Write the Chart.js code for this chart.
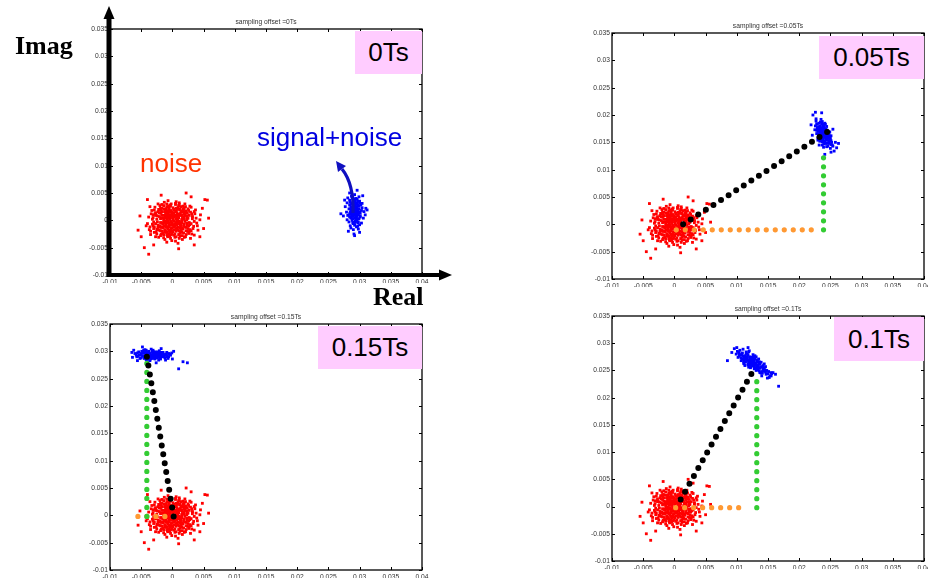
<!DOCTYPE html>
<html>
<head>
<meta charset="utf-8">
<script src="https://cdn.jsdelivr.net/npm/chart.js@4.4.1/dist/chart.umd.min.js"></script>
<style>
body { margin: 0; width: 928px; height: 580px; background: #fff; position: relative; overflow: hidden; font-family: "Liberation Sans", Arial, sans-serif; }
canvas { position: absolute; left: 0; top: 0; }
.lbl { position: absolute; white-space: nowrap; line-height: 1; }
.serif { font-family: "Liberation Serif", "Times New Roman", serif; font-weight: bold; font-size: 26px; color: #000; }
.big { font-size: 26px; }
.title { position: absolute; white-space: nowrap; font-size: 6.7px; color: #333; transform: translate(-50%, -50%); }
.tag { position: absolute; background: #ffccff; display: flex; align-items: center; justify-content: center; font-size: 26px; color: #000; }
svg { position: absolute; left: 0; top: 0; }
</style>
</head>
<body>
<canvas id="p0" width="928" height="580"></canvas>
<canvas id="p005" width="928" height="580"></canvas>
<canvas id="p015" width="928" height="580"></canvas>
<canvas id="p01" width="928" height="580"></canvas>

<div class="title" style="left:266px;top:21px">sampling offset =0Ts</div>
<div class="title" style="left:768px;top:25px">sampling offset =0.05Ts</div>
<div class="title" style="left:266px;top:316px">sampling offset =0.15Ts</div>
<div class="title" style="left:768px;top:308px">sampling offset =0.1Ts</div>

<div class="tag" style="left:355px;top:31px;width:67px;height:43px">0Ts</div>
<div class="tag" style="left:819px;top:36px;width:105px;height:43px">0.05Ts</div>
<div class="tag" style="left:318px;top:326px;width:104px;height:43px">0.15Ts</div>
<div class="tag" style="left:834px;top:317px;width:90px;height:44px">0.1Ts</div>

<div class="lbl serif" style="left:15px;top:33px">Imag</div>
<div class="lbl serif" style="left:373px;top:284px">Real</div>
<div class="lbl big" style="left:140px;top:150px;color:#ff3300">noise</div>
<div class="lbl big" style="left:257px;top:124px;color:#0000e0">signal+noise</div>

<svg width="928" height="580">
  <path d="M353,213 Q354,184 342,169" stroke="#1010c0" stroke-width="3.2" fill="none"/>
  <polygon points="336,161 346,166 338,172" fill="#1010c0"/>
</svg>

<script>
// Sumbu
const xTicks = [-0.01, -0.005, 0, 0.005, 0.01, 0.015, 0.02, 0.025, 0.03, 0.035, 0.04];
const yTicks = [-0.01, -0.005, 0, 0.005, 0.01, 0.015, 0.02, 0.025, 0.03, 0.035];

// Awan derau (merah), sama di keempat panel
const noiseCloud = [
  [0.0003,-0.0008],[-0.0012,0.0005],[0.0021,0.0014],[-0.0004,-0.0019],[0.0009,0.0002],[-0.0027,-0.0006],[0.0015,-0.0022],[0,0.0011],[-0.0008,0.0024],[0.0032,0.0007],
  [-0.0018,-0.0013],[0.0006,0.0017],[-0.0002,-0.0003],[0.0024,-0.0009],[-0.0031,0.001],[0.0011,0.0029],[-0.0014,-0.0027],[0.0017,0.0003],[-0.0006,-0.0011],[0.0002,0.002],
  [0.0028,-0.0017],[-0.0021,0.0019],[0.0013,-0.0004],[-0.001,-0.0001],[0.0004,-0.0031],[-0.0036,-0.0012],[0.0019,0.0022],[-0.0003,0.0008],[0.0008,-0.0014],[-0.0025,0.0002],
  [0.0035,-0.0002],[-0.0009,0.0013],[0.0016,-0.0028],[-0.0016,-0.002],[0.0001,0.0004],[-0.002,0.0027],[0.0026,0.0018],[-0.0001,-0.0024],[0.0012,0.0009],[-0.0029,-0.0022],
  [0.0007,-0.0006],[-0.0013,0.0033],[0.0022,-0.0013],[-0.0005,0.0015],[0.003,0.0024],[-0.0024,-0.0003],[0.0005,-0.0038],[-0.0011,-0.0008],[0.0018,0.0012],[-0.0038,0.0006],
  [0.001,0.0027],[-0.0007,-0.0016],[0.004,-0.001],[-0.0015,0.0009],[0.0003,-0.0001],[-0.0022,-0.0031],[0.0014,-0.0018],[-0.0002,0.0018],[0.0025,0.0004],[-0.0033,0.0018],
  [-0.0004,0.0002],[0.0019,-0.0007],[-0.0017,-0.0005],[0.0008,0.0021],[-0.0027,0.0014],[0.0031,-0.0025],[0,-0.0009],[-0.0009,0.003],[0.0016,0.0016],[-0.0012,-0.0035],
  [0.0006,-0.002],[-0.003,-0.0015],[0.0023,0.0008],[-0.0006,0.0006],[0.0011,-0.0033],[-0.0019,0.0022],[0.0036,0.0012],[-0.0001,-0.0014],[-0.0023,-0.0009],[0.0014,0.0025],
  [-0.0014,0.0001],[0.0027,-0.0004],[0.0002,0.0013],[-0.0035,-0.0026],[0.0009,-0.0012],[-0.0008,-0.0029],[0.002,0.003],[-0.0026,0.001],[0.0004,0.0007],[0.0044,0.0001],
  [-0.001,-0.0004],[0.0017,-0.0016],[-0.0003,0.0026],[0.0012,-0.0024],[-0.0021,-0.0018],[0.0029,0.0015],[-0.0007,-0.003],[0.0007,0.0014],[-0.0016,0.0016],[0.0021,-0.003],
  [-0.0001,-0.0006],[0.0033,-0.0015],[-0.0019,0.0003],[0.0005,0.0031],[-0.0012,-0.0022],[0.0015,-0.0001],[-0.0028,0.0024],[0.0024,-0.002],[-0.0005,-0.0012],[0.001,0.0005],
  [-0.004,-0.0006],[0.0018,0.002],[-0.0009,-0.004],[0.0026,-0.001],[-0.0002,0.0009],[-0.0015,-0.0014],[0.0037,0.0019],[0.0003,-0.0017],[-0.0023,0.003],[0.0013,-0.0008],
  [-0.0006,0.0019],[0.0022,-0.0026],[-0.0032,0.0002],[0.0009,0.001],[-0.0011,0.0012],[0.003,-0.0006],[-0.0018,-0.0025],[0.0001,0.0023],[0.0016,-0.0035],[-0.0025,-0.0016],
  [0.0008,-0.0003],[-0.0004,-0.0028],[0.0019,0.0006],[-0.002,-0.001],[0.0041,-0.0018],[-0.0013,0.0021],[0.0006,0.0034],[-0.003,-0.0003],[0.0025,-0.0015],[-0.0008,0.0003],
  [0.0014,0.0017],[-0.0024,0.0008],[-0.0001,-0.0037],[0.0032,0.0003],[-0.0017,0.0029],[0.001,-0.0026],[-0.0035,-0.002],[0.002,-0.0002],[-0.0005,0.001],[0.0028,0.0026],
  [-0.0012,-0.0017],[0.0004,-0.0011],[-0.0027,-0.003],[0.0017,0.0021],[-0.0003,-0.0002],[0.0035,-0.0027],[-0.0021,0.0014],[0.0011,-0.0019],[-0.0009,0.0025],[0.0045,0.001],
  [0.0002,-0.0027],[-0.0015,-0.0007],[0.0024,0.0013],[-0.0007,0.0036],[0.0013,-0.0011],[-0.0031,-0.001],[0.0007,0],[-0.0018,0.0005],[0.0029,-0.0033],[-0.0004,-0.0021],
  [-0.0022,0.002],[0.0018,-0.0023],[-0.001,-0.0012],[0.0038,0.0004],[-0.0002,0.003],[0.0009,-0.0042],[-0.0028,0.0012],[0.0015,0.0009],[-0.0014,-0.0032],[0.0023,0.0001],
  [-0.0006,-0.0025],[-0.0036,0.0025],[0.0012,0.0019],[-0.0019,-0.0019],[0.0027,-0.0021],[0,0.0015],[-0.0009,-0.0005],[0.0021,0.0025],[-0.0042,-0.001],[0.0006,-0.003],
  [-0.0045,-0.005],[-0.0038,-0.0062],[0.0052,0.0038],[0.0056,0.0037],[0.005,-0.0015],[-0.0052,0.0008],[0.0048,0.0022],[-0.0018,0.0046],[0.003,0.0043],[-0.004,0.0038],
  [0.001,-0.0052],[-0.0055,-0.0018],[0.0058,0.0004],[0.0035,-0.0045],[-0.003,-0.0045],[0.0022,0.005],[-0.005,-0.003],[0.0044,-0.003],
  [0.0001,0.0001],[-0.0003,0.0005],[0.0005,-0.0004],[-0.0007,-0.0002],[0.0008,0.0006],[-0.0002,-0.0008],[0.0004,0.0009],[-0.0009,0.0003],[0.0011,-0.0002],[-0.0005,-0.0005],
  [0,-0.0004],[0.0006,0.0003],[-0.0004,0.001],[0.0003,-0.001],[-0.001,-0.0008],[0.001,0.0011],[-0.0013,-0.0002],[0.0013,-0.0006],[-0.0001,0.0014],[0.0007,-0.0009],
  [-0.0008,0.0008],[0.0002,0.0006],[0.0009,-0.0018],[-0.0012,0.0016],[0.0015,0.0002],[-0.0006,-0.0018],[0.0018,-0.0011],[-0.0016,-0.0012],[0.0005,0.0016],[-0.0002,-0.0015],
  [0.0012,-0.0014],[-0.0015,0.0004],[0.002,0.0009],[-0.0005,0.0022],[0.0001,-0.0021],[-0.0019,-0.0004],[0.0023,-0.0005],[-0.0011,0.0019],[0.0008,0.002],[-0.0023,-0.0013],
  [0.0016,0.0007],[-0.0017,0.001],[0.0004,-0.0025],[-0.0026,-0.0021],[0.0027,0.0009],[-0.0008,-0.0022],[0.0011,0.0032],[-0.0032,-0.0007],[0.0034,-0.0011],[-0.0014,0.0027],
  [0.0019,-0.0031],[-0.0021,0.0007],[0.0008,0.0012],[-0.0003,-0.0033],[0.0025,0.0021],[-0.0029,0.0019],[0.0014,-0.0009],[-0.001,0.0021],[0.0031,0.0012],[-0.0019,-0.0028],
  [0.0006,-0.0015],[-0.0034,0.0012],[0.0022,-0.0019],[-0.0004,0.0028],[0.0039,-0.0005],[-0.0011,-0.0019],[0.0017,0.0026],[-0.0025,-0.0025],[0.0003,0.0019],[-0.0037,-0.0017],
  [0.0028,-0.0008],[-0.0007,0.0012],[0.0012,-0.0029],[-0.0023,0.0016],[0.0035,0.0016],[-0.0002,-0.0026],[0.0009,0.0024],[-0.0016,-0.0005],[0.0021,-0.0012],[-0.0031,0.0005],
  [0.0001,0.0008],[-0.0013,-0.0011],[0.0024,0.0004],[-0.0009,0.0017],[0.0015,-0.0005],[-0.0021,-0.0012],[0.0006,0.0022],[-0.0005,-0.0009],[0.0018,0.0016],[-0.0027,0.0009],
  [0.0013,0.0013],[-0.0017,0.0022],[0.003,-0.0019],[-0.0011,0.0006],[0.0004,-0.0007],[-0.0024,-0.0017],[0.0019,0.0002],[-0.0006,0.0026],[0.0026,-0.0024],[-0.0015,-0.0024],
  [0.0009,0.0005],[-0.0003,0.0016],[0.0014,-0.0021],[-0.0019,0.0013],[0.0032,0.0006],[-0.0008,-0.0013],[0.0005,0.0029],[-0.0029,-0.0012],[0.0022,0.0017],[-0.0012,0.0009],
  [0.0002,-0.0012],[-0.0006,0.0004],[0.001,-0.0006],[-0.0014,-0.0004],[0.0007,0.0009],[-0.0001,-0.0019],[0.0016,-0.0014],[-0.0018,0.0018],[0.0012,0.0021],[-0.0009,-0.0026]
];

// Awan sinyal+derau (biru) per offset sampling
const signal0Ts = [
  [0.0292,0.0015],[0.0295,0.0024],[0.0286,0.0004],[0.03,0.0031],[0.029,-0.0006],[0.0297,0.0012],[0.0283,0.0021],[0.0293,0.0037],[0.0288,0],[0.0301,0.0008],
  [0.0291,0.0027],[0.0296,-0.0002],[0.0285,0.0033],[0.0294,0.0013],[0.0281,0.0009],[0.0299,0.0026],[0.0289,0.0042],[0.03,-0.0008],[0.0292,0.0005],[0.0284,0.0028],
  [0.0303,0.0018],[0.029,0.002],[0.0295,-0.0012],[0.0287,0.0017],[0.0297,0.0035],[0.028,0.0001],[0.0293,-0.0001],[0.0299,0.0003],[0.0287,0.0044],[0.0294,0.003],
  [0.0285,-0.001],[0.0304,0.0023],[0.0291,0.001],[0.0296,0.0039],[0.0283,-0.0003],[0.0298,-0.0016],[0.0289,0.0031],[0.0302,0.0028],[0.0292,0.0047],[0.0279,0.0015],
  [0.0295,0.0016],[0.029,-0.0017],[0.0306,0.0004],[0.0284,0.0037],[0.0297,0.0019],[0.0288,0.0007],[0.03,0.0035],[0.0277,0.0025],[0.0294,0.0002],[0.0298,-0.0003],
  [0.0291,0.0033],[0.0303,-0.0005],[0.0281,0.0041],[0.0296,0.0024],[0.0286,-0.0014],[0.0307,0.0016],[0.0293,0.0022],[0.0289,0.0013],[0.0299,0.0043],[0.0285,0.0006],
  [0.0292,-0.0009],[0.0301,0.0013],[0.028,0.0032],[0.0295,0.0009],[0.029,0.0027],[0.0297,-0.0011],[0.0284,0.0012],[0.0304,0.0031],[0.0287,0.0019],[0.0294,0.004],
  [0.0274,0.0008],[0.0309,0.001],[0.0282,-0.002],[0.0296,0.0055],[0.0291,-0.0025],[0.031,0.0022],[0.0305,0.0045],[0.0276,0.0037],[0.03,-0.0022],[0.0284,0.005],
  [0.027,0.0012],[0.0312,0.0019],[0.0292,-0.0028],
  [0.0293,0.0018],[0.029,0.0009],[0.0295,0.0007],[0.0289,0.0024],[0.0294,-0.0001],[0.0291,0.0036],[0.0296,0.0003],[0.0287,0.0023],[0.0298,0.0016],[0.0292,0.0028],
  [0.0288,0.0014],[0.0293,0.0011],[0.029,0.003],[0.0296,0.002],[0.0289,-0.0004],
  [0.0291,0.0019],[0.0294,0.0025],[0.0288,0.001],[0.0297,0.0028],[0.0289,0.0003],[0.0295,0.0017],[0.0286,0.0025],[0.0293,0.0033],[0.029,0.0014],[0.0298,0.001],
  [0.0292,0.0021],[0.0296,0.0008],[0.0287,0.003],[0.0294,0.0005],[0.0285,0.0015],[0.0299,0.0021],[0.0291,0.0039],[0.0297,-0.0005],[0.0289,0.0008],[0.0286,0.0019],
  [0.03,0.0015],[0.0293,0.0027],[0.0292,-0.0004],[0.0288,0.0022],[0.0296,0.0031],[0.0284,0.0007],[0.0295,0.0001],[0.0301,0.0006],[0.029,0.0035],[0.0294,0.0011]
];
const signal005Ts = [
  [0.0238,0.0166],[0.0243,0.0158],[0.0232,0.0175],[0.0248,0.0151],[0.0235,0.0161],[0.024,0.0178],[0.0229,0.0183],[0.0245,0.0164],[0.0237,0.0151],[0.0251,0.0146],
  [0.0234,0.017],[0.0242,0.0183],[0.0228,0.0172],[0.0244,0.0155],[0.0238,0.0173],[0.0236,0.0155],[0.0249,0.0159],[0.0231,0.0165],[0.0239,0.0181],[0.0246,0.0143],
  [0.0226,0.018],[0.0243,0.0168],[0.0234,0.0187],[0.0251,0.0153],[0.0237,0.0162],[0.0245,0.0172],[0.0232,0.0157],[0.024,0.0147],[0.0227,0.0189],[0.0248,0.0164],
  [0.0242,0.0152],[0.0231,0.0178],[0.0253,0.0145],[0.0235,0.0192],[0.0244,0.0179],[0.0233,0.0152],[0.0239,0.0141],[0.0247,0.0157],[0.0228,0.0166],[0.0238,0.0183],
  [0.025,0.0139],[0.0234,0.0172],[0.0243,0.0161],[0.0225,0.0173],[0.0245,0.0148],[0.0237,0.0188],[0.024,0.0159],[0.023,0.0158],[0.0249,0.0169],[0.0232,0.0185],
  [0.0254,0.0143],[0.0236,0.0164],[0.0241,0.0175],[0.0227,0.0193],[0.0244,0.0142],[0.0238,0.0156],[0.0247,0.0152],[0.0233,0.018],[0.0251,0.0162],[0.023,0.0154],
  [0.0222,0.02],[0.0226,0.0205],[0.0256,0.0134],[0.0258,0.015],[0.0219,0.0182],[0.0241,0.0128],[0.0251,0.0132],[0.0236,0.0204],[0.026,0.014],[0.0232,0.0145],
  [0.0254,0.0174],[0.0221,0.0163],[0.0263,0.0148],
  [0.0239,0.0168],[0.0236,0.0171],[0.0242,0.0163],[0.0237,0.016],[0.024,0.0173],[0.0235,0.0167],[0.0243,0.0156],[0.0238,0.0162],[0.0244,0.017],[0.0233,0.0175],
  [0.0241,0.0166],[0.0236,0.0177],[0.0246,0.016],[0.0239,0.015],[0.0234,0.0163],
  [0.0237,0.0169],[0.024,0.0164],[0.0235,0.0172],[0.0243,0.0159],[0.0239,0.0176],[0.0233,0.0168],[0.0245,0.0156],[0.0236,0.0159],[0.0241,0.0171],[0.0231,0.0174],
  [0.0247,0.0163],[0.0238,0.0179],[0.0234,0.0156],[0.0242,0.0148],[0.0229,0.0177],[0.0244,0.0166],[0.0236,0.0183],[0.024,0.0153],[0.0246,0.0168],[0.0232,0.0162],
  [0.025,0.0157],[0.0237,0.0145],[0.0241,0.0185],[0.0228,0.0184],[0.0248,0.0148],[0.0235,0.0176],[0.0243,0.0174],[0.0239,0.016],[0.023,0.017],[0.0252,0.015]
];
const signal01Ts = [
  [0.0123,0.0265],[0.013,0.0261],[0.0115,0.0271],[0.0137,0.0254],[0.0119,0.0266],[0.0127,0.0268],[0.011,0.0276],[0.0133,0.0258],[0.0121,0.026],[0.0142,0.0252],
  [0.0117,0.0275],[0.0129,0.0264],[0.0106,0.0279],[0.0135,0.0262],[0.0124,0.027],[0.0112,0.027],[0.014,0.0248],[0.0126,0.0259],[0.0118,0.0278],[0.0146,0.0247],
  [0.0103,0.0283],[0.0131,0.0255],[0.0114,0.0266],[0.0138,0.0257],[0.0121,0.0272],[0.0128,0.0256],[0.0109,0.0282],[0.0134,0.0251],[0.0116,0.0269],[0.0144,0.0254],
  [0.012,0.0263],[0.0107,0.0273],[0.0139,0.0245],[0.0125,0.0274],[0.0113,0.0277],[0.0132,0.0266],[0.0101,0.0285],[0.0147,0.0243],[0.0122,0.0257],[0.0136,0.0249],
  [0.0111,0.0267],[0.0129,0.0271],[0.0105,0.0287],[0.0141,0.0256],[0.0118,0.0262],[0.0126,0.0265],[0.0099,0.028],[0.0143,0.0249],[0.0115,0.028],[0.0134,0.026],
  [0.015,0.0244],[0.0108,0.0278],[0.0124,0.0261],[0.0131,0.025],[0.0104,0.0276],[0.0137,0.0262],[0.0119,0.0284],[0.0145,0.0251],[0.0112,0.0262],[0.0128,0.0275],
  [0.0085,0.0268],[0.0167,0.0221],[0.0152,0.0237],[0.0096,0.029],[0.0158,0.0246],[0.01,0.0292],[0.0155,0.024],[0.0092,0.0283],[0.0149,0.0236],[0.011,0.0289],
  [0.0162,0.0243],[0.0118,0.0292],[0.014,0.024],[0.0155,0.0246],[0.0153,0.024],
  [0.0122,0.0266],[0.0126,0.0263],[0.0119,0.0268],[0.0129,0.026],[0.0116,0.0272],[0.0124,0.0262],[0.0121,0.0269],[0.0132,0.0258],[0.0114,0.0274],[0.0127,0.0266],
  [0.012,0.0264],[0.0134,0.0256],[0.0117,0.027],[0.0125,0.0267],[0.013,0.0263],
  [0.0128,0.027],[0.0118,0.026],[0.0136,0.0266],[0.0111,0.0263],[0.0131,0.0275],[0.0122,0.0255],[0.0142,0.0259],[0.0107,0.0268],[0.0126,0.0279],[0.0134,0.0252],
  [0.0115,0.0284],[0.0146,0.0257],[0.0121,0.0275],[0.0109,0.0271],[0.0139,0.0265],[0.0128,0.0253],[0.0117,0.028],[0.0148,0.025],[0.0124,0.0258],[0.0133,0.0269],
  [0.0113,0.0259],[0.0141,0.0245],[0.0104,0.0281],[0.0129,0.0277],[0.0137,0.0246],[0.012,0.0286],[0.0151,0.0248],[0.0112,0.0274],[0.0125,0.0271],[0.0144,0.0262],
  [0.0119,0.0256],[0.0135,0.0271],[0.0102,0.0274],[0.0156,0.0244],[0.0127,0.0262]
];
const signal015Ts = [
  [-0.0033,0.0293],[-0.0024,0.0297],[-0.0044,0.0289],[-0.0015,0.0295],[-0.0038,0.03],[-0.0028,0.0286],[-0.0051,0.0294],[-0.002,0.029],[-0.0036,0.0296],[-0.0008,0.0292],
  [-0.0042,0.0285],[-0.003,0.0299],[-0.0012,0.0288],[-0.0047,0.0297],[-0.0026,0.0292],[-0.0055,0.0291],[-0.0018,0.0298],[-0.0035,0.0288],[-0.0004,0.0295],[-0.004,0.0294],
  [-0.0022,0.0284],[-0.0049,0.03],[-0.0014,0.0293],[-0.0031,0.0302],[-0.0045,0.0287],[-0.0009,0.0298],[-0.0027,0.0296],[-0.0058,0.0293],[-0.0019,0.0286],[-0.0037,0.0291],
  [-0.0006,0.029],[-0.0043,0.0298],[-0.0025,0.0289],[-0.0052,0.0287],[-0.0016,0.0296],[-0.0034,0.0304],[-0.0011,0.0284],[-0.0048,0.0291],[-0.0029,0.0293],[-0.0021,0.0301],
  [-0.006,0.0296],[-0.0003,0.0293],[-0.0039,0.0286],[-0.0023,0.0295],[-0.0046,0.0302],[-0.0013,0.029],[-0.0032,0.0287],[-0.0054,0.0299],[-0.0017,0.0292],[-0.0041,0.0297],
  [-0.0001,0.0297],[-0.0028,0.0291],[-0.005,0.0288],[-0.001,0.0295],[-0.0036,0.0283],[-0.002,0.0294],[-0.0044,0.0303],[-0.0007,0.0287],[-0.0031,0.0297],[-0.0057,0.029],
  [-0.0064,0.0289],[0.0017,0.0281],[0.0024,0.0279],[0.001,0.0268],[-0.0065,0.0298],[0.0002,0.03],[-0.0048,0.0308],[-0.0026,0.0279],[-0.004,0.0281],[-0.0018,0.0305],
  [0,0.0286],[-0.0056,0.0283],[-0.0062,0.0302],
  [-0.003,0.0294],[-0.0035,0.0292],[-0.0025,0.0293],[-0.0038,0.0296],[-0.0028,0.0289],[-0.0033,0.0298],[-0.0022,0.0291],[-0.004,0.029],[-0.0027,0.0295],[-0.0032,0.029],
  [-0.0036,0.0295],[-0.0024,0.0288],[-0.0029,0.0298],[-0.0042,0.0293],[-0.0019,0.0294],
  [-0.0031,0.0292],[-0.0026,0.0295],[-0.0038,0.0291],[-0.0021,0.0297],[-0.0043,0.0295],[-0.0034,0.0289],[-0.0047,0.0292],[-0.0017,0.029],[-0.0029,0.0296],[-0.0012,0.0294],
  [-0.0039,0.0299],[-0.0024,0.0291],[-0.005,0.0296],[-0.0035,0.0286],[-0.0015,0.0298],[-0.0045,0.029],[-0.0027,0.0299],[-0.0009,0.029],[-0.0041,0.0288],[-0.0032,0.0301],
  [-0.0053,0.0293],[-0.002,0.0287],[-0.0037,0.0294],[-0.0006,0.0296],[-0.0046,0.0298],[-0.0023,0.0299],[-0.003,0.0288],[-0.0056,0.0297],[-0.0014,0.0291],[-0.0042,0.0302]
];

// Garis titik-titik: vektor (hitam), bagian imajiner (hijau), bagian real (oranye)
const vector005Ts = [[0.0014, 0], [0.0245, 0.0169]];
const imag005Ts = [[0.0239, -0.001], [0.0239, 0.0138]];
const real005Ts = [[0.0003, -0.001], [0.0232, -0.001]];

const vector01Ts = [[0.001, 0.0013], [0.013, 0.0257]];
const imag01Ts = [[0.0132, -0.0002], [0.0132, 0.0245]];
const real01Ts = [[0.0002, -0.0002], [0.0117, -0.0002]];

const vector015Ts = [[0.0002, -0.0002], [-0.0041, 0.0291]];
const imag015Ts = [[-0.0041, -0.0002], [-0.0041, 0.0278]];
const real015Ts = [[-0.0012, -0.0002], [-0.0056, -0.0002]];

const FONT = '"Liberation Sans", Arial, sans-serif';

function toXY(p) {
    return { x: p[0], y: p[1] };
}

// Titik kecil persegi ala MATLAB
function cloud(points, color, order) {
    return {
        data: points.map(toXY),
        pointStyle: 'rect',
        pointRadius: 2,
        pointHoverRadius: 2,
        pointBorderWidth: 0,
        pointBackgroundColor: color,
        backgroundColor: color,
        showLine: false,
        order: order
    };
}

// Garis putus-putus berupa bulatan
function dotted(points, color, width, order) {
    return {
        data: points.map(toXY),
        showLine: true,
        borderColor: color,
        borderWidth: width,
        borderDash: [0, 9],
        borderCapStyle: 'round',
        pointRadius: 0,
        pointHoverRadius: 0,
        tension: 0,
        order: order
    };
}

// Kotak sumbu dengan tick ke dalam, plus panah sumbu untuk panel pertama
const boxPlugin = {
    id: 'matlabBox',
    afterDraw(chart, args, opts) {
        const { ctx, chartArea: a, scales } = chart;
        ctx.save();
        ctx.strokeStyle = '#000';
        ctx.lineWidth = 1.3;
        ctx.strokeRect(a.left, a.top, a.width, a.height);
        ctx.beginPath();
        scales.x.ticks.forEach(t => {
            const px = Math.round(scales.x.getPixelForValue(t.value)) + 0.5;
            ctx.moveTo(px, a.bottom); ctx.lineTo(px, a.bottom - 3);
            ctx.moveTo(px, a.top); ctx.lineTo(px, a.top + 3);
        });
        scales.y.ticks.forEach(t => {
            const py = Math.round(scales.y.getPixelForValue(t.value)) + 0.5;
            ctx.moveTo(a.left, py); ctx.lineTo(a.left + 3, py);
            ctx.moveTo(a.right, py); ctx.lineTo(a.right - 3, py);
        });
        ctx.lineWidth = 1;
        ctx.stroke();

        if (opts.arrows) {
            ctx.fillStyle = '#000';
            // sumbu Imag
            ctx.lineWidth = 5;
            ctx.beginPath();
            ctx.moveTo(a.left - 1, a.bottom + 2);
            ctx.lineTo(a.left - 1, a.top - 11);
            ctx.stroke();
            ctx.beginPath();
            ctx.moveTo(a.left - 1, a.top - 23);
            ctx.lineTo(a.left - 6.5, a.top - 10);
            ctx.lineTo(a.left + 4.5, a.top - 10);
            ctx.closePath();
            ctx.fill();
            // sumbu Real
            ctx.lineWidth = 4;
            ctx.beginPath();
            ctx.moveTo(a.left - 3, a.bottom);
            ctx.lineTo(a.right + 18, a.bottom);
            ctx.stroke();
            ctx.beginPath();
            ctx.moveTo(a.right + 30, a.bottom);
            ctx.lineTo(a.right + 17, a.bottom - 5.5);
            ctx.lineTo(a.right + 17, a.bottom + 5.5);
            ctx.closePath();
            ctx.fill();
        }
        ctx.restore();
    }
};

function axis(ticks, min, max, horizontal) {
    return {
        type: 'linear',
        min: min,
        max: max,
        grid: { display: false, drawTicks: false },
        border: { display: false },
        afterBuildTicks: s => { s.ticks = ticks.map(v => ({ value: v })); },
        afterFit: s => {
            if (horizontal) s.height = 8; else s.width = 30;
            s.paddingLeft = 0; s.paddingRight = 0; s.paddingTop = 0; s.paddingBottom = 0;
        },
        ticks: {
            autoSkip: false,
            maxRotation: 0,
            minRotation: 0,
            padding: horizontal ? 3 : 2,
            color: '#333',
            font: { family: FONT, size: 6.7 },
            callback: v => String(v)
        }
    };
}

function panel(id, box, datasets, arrows) {
    new Chart(document.getElementById(id), {
        type: 'scatter',
        data: { datasets: datasets },
        options: {
            responsive: false,
            animation: false,
            devicePixelRatio: 1,
            events: [],
            layout: {
                padding: { left: box.left - 30, top: box.top, right: 928 - box.right, bottom: 580 - box.bottom - 8 }
            },
            plugins: {
                legend: { display: false },
                tooltip: { enabled: false },
                matlabBox: { arrows: arrows }
            },
            scales: {
                x: axis(xTicks, -0.01, 0.04, true),
                y: axis(yTicks, -0.01, 0.035, false)
            }
        },
        plugins: [boxPlugin]
    });
}

const RED = '#ff0000', BLUE = '#0000ff', BLACK = '#000000', GREEN = '#33cc33', ORANGE = '#ff9933';

panel('p0', { left: 110, top: 29, right: 422, bottom: 275 }, [
    cloud(signal0Ts, BLUE, 4),
    cloud(noiseCloud, RED, 5)
], true);

panel('p005', { left: 612, top: 33, right: 924, bottom: 279 }, [
    dotted(vector005Ts, BLACK, 6, 1),
    dotted(imag005Ts, GREEN, 5.2, 2),
    dotted(real005Ts, ORANGE, 5.2, 3),
    cloud(signal005Ts, BLUE, 4),
    cloud(noiseCloud, RED, 5)
], false);

panel('p015', { left: 110, top: 324, right: 422, bottom: 570 }, [
    dotted(vector015Ts, BLACK, 6, 1),
    dotted(imag015Ts, GREEN, 5.2, 2),
    dotted(real015Ts, ORANGE, 5.2, 3),
    cloud(signal015Ts, BLUE, 4),
    cloud(noiseCloud, RED, 5)
], false);

panel('p01', { left: 612, top: 316, right: 924, bottom: 561 }, [
    dotted(vector01Ts, BLACK, 6, 1),
    dotted(imag01Ts, GREEN, 5.2, 2),
    dotted(real01Ts, ORANGE, 5.2, 3),
    cloud(signal01Ts, BLUE, 4),
    cloud(noiseCloud, RED, 5)
], false);
</script>
</body>
</html>
